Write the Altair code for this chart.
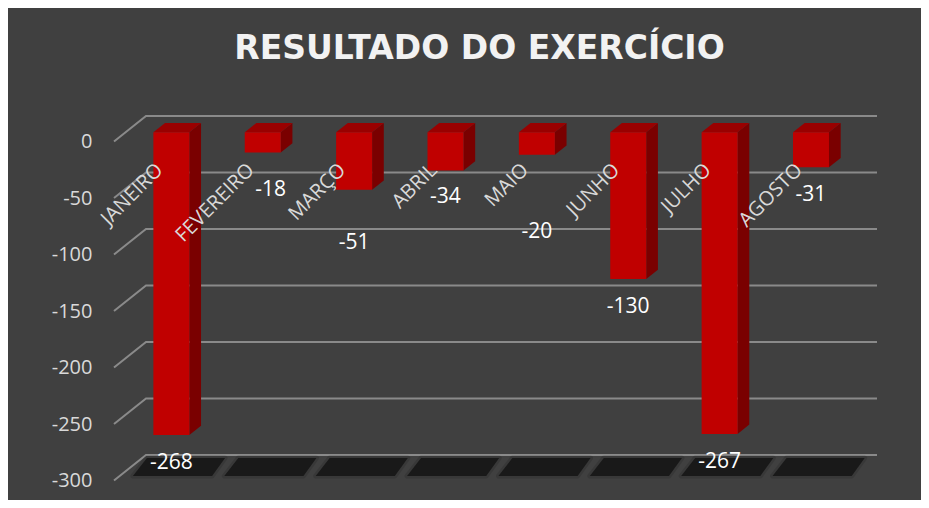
import altair as alt
import pandas as pd

# ---------------- data ----------------
months = ["JANEIRO", "FEVEREIRO", "MARÇO", "ABRIL", "MAIO", "JUNHO", "JULHO", "AGOSTO"]
values = [-268, -18, -51, -34, -20, -130, -267, -31]
y_ticks = [0, -50, -100, -150, -200, -250, -300]
title_text = "RESULTADO DO EXERCÍCIO"

# hand-moved data labels in the original (pixel nudges, layout only)
label_nudge_x = [0, 8, 0, 0, 0, 0, 0, 0]
label_nudge_y = [0, 9, 25, -2, 49, 0, 0, 0]

# ---------------- layout / style ----------------
FONT = "Open Sans"
W, H = 731, 339
N = len(months)
Y_MIN, Y_MAX = -300, 0
PX_X = W / N
PX_Y = H / (Y_MAX - Y_MIN)
DEPTH_X, DEPTH_Y = 32.0, 25.5          # pseudo-3D depth in px
F1, F2 = 0.365, 0.73                    # bar front / back depth
HW = 18.0 / PX_X                        # half bar width (data units)


def dxu(d):
    return d * DEPTH_X / PX_X


def dyu(d):
    return d * DEPTH_Y / PX_Y


xs = alt.Scale(domain=[0, N], nice=False, zero=False)
ys = alt.Scale(domain=[Y_MIN, Y_MAX], nice=False, zero=False)

# gridlines (left wall diagonal + back wall)
grid_rows = []
for t in y_ticks:
    grid_rows.append({"tick": t, "seq": 0, "x": 0.0, "y": t})
    grid_rows.append({"tick": t, "seq": 1, "x": dxu(1), "y": t + dyu(1)})
    grid_rows.append({"tick": t, "seq": 2, "x": N + dxu(1), "y": t + dyu(1)})
grid_df = pd.DataFrame(grid_rows)

# floor shadows
shadow_rows = []
for i, m in enumerate(months):
    yb = Y_MIN + 4.5 / PX_Y
    yt = Y_MIN + 22.5 / PX_Y
    shadow_rows.append({"month": m, "y": yb, "xa": i + 19 / PX_X, "xb": i + 98 / PX_X})
    shadow_rows.append({"month": m, "y": yt, "xa": i + 33 / PX_X, "xb": i + 111 / PX_X})
shadow_df = pd.DataFrame(shadow_rows)

front_rows, top_rows, side_rows, lab_rows, cat_rows = [], [], [], [], []
for i, (m, v) in enumerate(zip(months, values)):
    c = i + 0.5
    front_rows.append({"month": m, "x1": c - HW + dxu(F1), "x2": c + HW + dxu(F1),
                       "y1": 0 + dyu(F1), "y2": v + dyu(F1)})
    for d in (F1, F2):
        top_rows.append({"month": m, "y": dyu(d), "xa": c - HW + dxu(d), "xb": c + HW + dxu(d)})
        side_rows.append({"month": m, "x": c + HW + dxu(d), "ya": dyu(d), "yb": v + dyu(d)})
    lab_rows.append({"month": m, "label": str(v),
                     "x": c + dxu(F1) + label_nudge_x[i] / PX_X,
                     "y": v + dyu(F1) - (28 + label_nudge_y[i]) / PX_Y})
    cat_rows.append({"month": m, "x": c, "y": 0})

front_df = pd.DataFrame(front_rows)
top_df = pd.DataFrame(top_rows)
side_df = pd.DataFrame(side_rows)
lab_df = pd.DataFrame(lab_rows)
cat_df = pd.DataFrame(cat_rows)

yaxis = alt.Axis(values=y_ticks, title=None, grid=False, ticks=False, tickSize=0,
                 domain=False, labelFontSize=20, labelColor="#D9D9D9",
                 labelPadding=22, labelFont=FONT, labelExpr="'' + datum.value")


def Y(field):
    return alt.Y(field, scale=ys, axis=yaxis)


def X(field):
    return alt.X(field, scale=xs, axis=None)


grid = alt.Chart(grid_df).mark_line(color="#8A8A8A", strokeWidth=2).encode(
    x=X("x:Q"), y=Y("y:Q"), detail="tick:N", order="seq:Q",
)

shadow_halo = alt.Chart(shadow_df).mark_area(
    orient="horizontal", color="#1A1A1A", opacity=0.45,
    stroke="#1A1A1A", strokeWidth=5, strokeJoin="round", strokeOpacity=0.45,
).encode(y=Y("y:Q"), x=X("xa:Q"), x2="xb:Q", detail="month:N")

shadow = alt.Chart(shadow_df).mark_area(orient="horizontal", color="#191919").encode(
    y=Y("y:Q"), x=X("xa:Q"), x2="xb:Q", detail="month:N",
)

side = alt.Chart(side_df).mark_area(orient="vertical", color="#7A0000").encode(
    x=X("x:Q"), y=Y("ya:Q"), y2="yb:Q", detail="month:N",
)

top = alt.Chart(top_df).mark_area(orient="horizontal", color="#990000").encode(
    y=Y("y:Q"), x=X("xa:Q"), x2="xb:Q", detail="month:N",
)

front = alt.Chart(front_df).mark_rect(color="#C00000").encode(
    x=X("x1:Q"), x2="x2:Q", y=Y("y1:Q"), y2="y2:Q",
)

cat_text = alt.Chart(cat_df).mark_text(
    angle=315, align="right", baseline="middle", font=FONT, fontSize=20,
    color="#D9D9D9", yOffset=25.5,
).encode(x=X("x:Q"), y=Y("y:Q"), text="month:N")

val_text = alt.Chart(lab_df).mark_text(
    align="center", baseline="middle", font=FONT, fontSize=21, color="#FFFFFF",
).encode(x=X("x:Q"), y=Y("y:Q"), text="label:N")

chart = alt.layer(grid, shadow_halo, shadow, side, top, front, cat_text, val_text).properties(
    width=W,
    height=H,
    padding={"left": 106, "top": 133.5, "right": 76, "bottom": 19.5},
    autosize=alt.AutoSizeParams(type="none"),
    background="#404040",
    title=alt.TitleParams(
        text=title_text, font="DejaVu Sans", fontSize=33, fontWeight="bold",
        color="#F2F2F2", anchor="middle", offset=46,
    ),
).configure_view(strokeWidth=0)

chart.save("out.html", embed_options={"renderer": "svg", "actions": False})
